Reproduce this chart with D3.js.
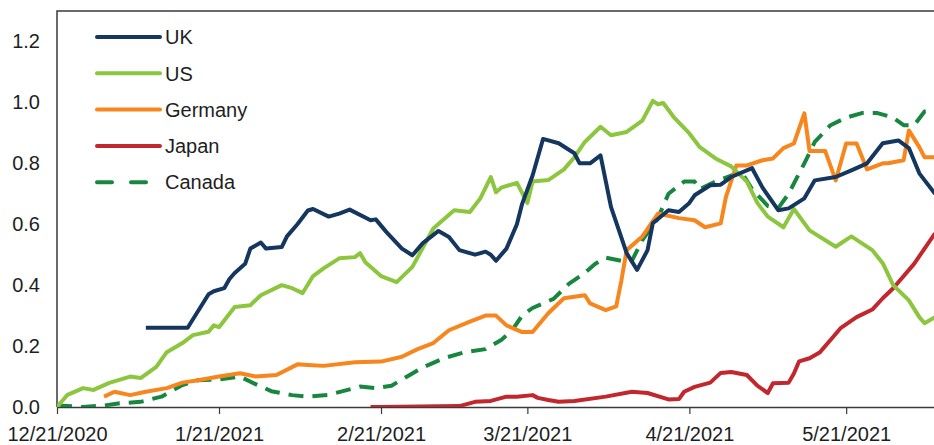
<!DOCTYPE html>
<html>
<head>
<meta charset="utf-8">
<script src="https://cdn.jsdelivr.net/npm/d3@7"></script>
<style>
  html, body { margin: 0; padding: 0; background: #fff; }
  svg text { font-family: "Liberation Sans", Arial, sans-serif; fill: #1e1e1e; }
</style>
</head>
<body>
<div id="chart"></div>
<script>
// values, [date, value]
const uk = [["2021-01-07",0.26],["2021-01-15",0.26],["2021-01-19",0.37],["2021-01-20",0.38],["2021-01-22",0.39],["2021-01-23",0.42],["2021-01-24",0.44],["2021-01-26",0.47],["2021-01-27",0.52],["2021-01-29",0.54],["2021-01-30",0.52],["2021-02-02",0.525],["2021-02-03",0.56],["2021-02-05",0.60],["2021-02-07",0.645],["2021-02-08",0.65],["2021-02-11",0.625],["2021-02-13",0.635],["2021-02-15",0.648],["2021-02-19",0.613],["2021-02-20",0.616],["2021-02-22",0.575],["2021-02-25",0.52],["2021-02-27",0.498],["2021-03-01",0.538],["2021-03-04",0.578],["2021-03-06",0.558],["2021-03-08",0.515],["2021-03-11",0.50],["2021-03-13",0.51],["2021-03-14",0.50],["2021-03-15",0.48],["2021-03-17",0.52],["2021-03-19",0.60],["2021-03-20",0.667],["2021-03-22",0.76],["2021-03-24",0.88],["2021-03-27",0.866],["2021-03-30",0.833],["2021-03-31",0.80],["2021-04-02",0.80],["2021-04-04",0.826],["2021-04-06",0.657],["2021-04-09",0.505],["2021-04-11",0.45],["2021-04-13",0.515],["2021-04-14",0.603],["2021-04-17",0.646],["2021-04-19",0.64],["2021-04-21",0.67],["2021-04-22",0.695],["2021-04-25",0.728],["2021-04-27",0.73],["2021-04-29",0.755],["2021-05-03",0.784],["2021-05-05",0.72],["2021-05-08",0.646],["2021-05-10",0.652],["2021-05-13",0.685],["2021-05-15",0.744],["2021-05-19",0.755],["2021-05-22",0.777],["2021-05-25",0.80],["2021-05-28",0.866],["2021-05-31",0.875],["2021-06-02",0.85],["2021-06-04",0.767],["2021-06-07",0.70]];

const us = [["2020-12-21",0.0],["2020-12-23",0.04],["2020-12-26",0.062],["2020-12-28",0.056],["2020-12-31",0.079],["2021-01-04",0.10],["2021-01-06",0.095],["2021-01-09",0.132],["2021-01-11",0.18],["2021-01-14",0.21],["2021-01-16",0.236],["2021-01-19",0.247],["2021-01-20",0.268],["2021-01-21",0.262],["2021-01-24",0.328],["2021-01-27",0.334],["2021-01-29",0.367],["2021-02-02",0.40],["2021-02-04",0.39],["2021-02-06",0.374],["2021-02-08",0.43],["2021-02-10",0.455],["2021-02-13",0.488],["2021-02-16",0.492],["2021-02-17",0.505],["2021-02-18",0.475],["2021-02-21",0.43],["2021-02-24",0.41],["2021-02-27",0.46],["2021-03-03",0.586],["2021-03-07",0.646],["2021-03-10",0.64],["2021-03-12",0.685],["2021-03-14",0.755],["2021-03-15",0.705],["2021-03-16",0.72],["2021-03-19",0.736],["2021-03-21",0.67],["2021-03-22",0.74],["2021-03-25",0.745],["2021-03-28",0.78],["2021-03-30",0.82],["2021-04-01",0.87],["2021-04-04",0.92],["2021-04-06",0.892],["2021-04-09",0.903],["2021-04-12",0.94],["2021-04-14",1.005],["2021-04-15",0.994],["2021-04-16",0.998],["2021-04-18",0.952],["2021-04-21",0.898],["2021-04-23",0.853],["2021-04-26",0.816],["2021-04-29",0.79],["2021-05-02",0.74],["2021-05-04",0.67],["2021-05-06",0.625],["2021-05-09",0.59],["2021-05-11",0.65],["2021-05-14",0.58],["2021-05-19",0.526],["2021-05-22",0.56],["2021-05-26",0.515],["2021-05-28",0.472],["2021-05-30",0.40],["2021-06-02",0.35],["2021-06-04",0.295],["2021-06-05",0.275],["2021-06-07",0.295]];

const germany = [["2020-12-30",0.034],["2021-01-01",0.05],["2021-01-04",0.039],["2021-01-07",0.05],["2021-01-11",0.062],["2021-01-14",0.08],["2021-01-17",0.088],["2021-01-21",0.10],["2021-01-25",0.111],["2021-01-28",0.10],["2021-02-01",0.105],["2021-02-05",0.14],["2021-02-07",0.138],["2021-02-10",0.135],["2021-02-16",0.147],["2021-02-21",0.149],["2021-02-25",0.165],["2021-02-28",0.19],["2021-03-03",0.21],["2021-03-06",0.252],["2021-03-10",0.28],["2021-03-13",0.30],["2021-03-15",0.30],["2021-03-17",0.268],["2021-03-20",0.246],["2021-03-22",0.246],["2021-03-25",0.308],["2021-03-28",0.357],["2021-04-01",0.367],["2021-04-02",0.34],["2021-04-05",0.318],["2021-04-07",0.33],["2021-04-08",0.416],["2021-04-09",0.515],["2021-04-12",0.56],["2021-04-15",0.635],["2021-04-19",0.62],["2021-04-22",0.613],["2021-04-24",0.59],["2021-04-27",0.603],["2021-04-28",0.69],["2021-04-30",0.793],["2021-05-02",0.793],["2021-05-05",0.81],["2021-05-07",0.816],["2021-05-09",0.85],["2021-05-11",0.865],["2021-05-13",0.964],["2021-05-14",0.84],["2021-05-17",0.84],["2021-05-19",0.744],["2021-05-21",0.865],["2021-05-23",0.865],["2021-05-25",0.78],["2021-05-28",0.80],["2021-05-29",0.80],["2021-06-01",0.81],["2021-06-02",0.908],["2021-06-04",0.853],["2021-06-05",0.82],["2021-06-07",0.82]];

const japan = [["2021-02-19",0.0],["2021-02-21",0.0],["2021-03-08",0.003],["2021-03-11",0.017],["2021-03-14",0.02],["2021-03-17",0.034],["2021-03-19",0.034],["2021-03-22",0.039],["2021-03-23",0.03],["2021-03-25",0.023],["2021-03-27",0.017],["2021-03-30",0.02],["2021-04-05",0.034],["2021-04-10",0.05],["2021-04-13",0.046],["2021-04-17",0.025],["2021-04-19",0.026],["2021-04-20",0.05],["2021-04-22",0.066],["2021-04-25",0.08],["2021-04-27",0.112],["2021-04-29",0.115],["2021-05-02",0.105],["2021-05-04",0.07],["2021-05-06",0.046],["2021-05-07",0.078],["2021-05-10",0.08],["2021-05-11",0.11],["2021-05-12",0.15],["2021-05-14",0.16],["2021-05-16",0.18],["2021-05-18",0.22],["2021-05-20",0.26],["2021-05-23",0.295],["2021-05-26",0.32],["2021-05-28",0.357],["2021-05-30",0.39],["2021-06-03",0.47],["2021-06-05",0.52],["2021-06-07",0.57]];

const canada = [["2020-12-21",0.005],["2020-12-26",0.0],["2020-12-30",0.005],["2021-01-02",0.012],["2021-01-06",0.017],["2021-01-10",0.034],["2021-01-14",0.072],["2021-01-17",0.088],["2021-01-21",0.09],["2021-01-25",0.10],["2021-01-28",0.075],["2021-01-31",0.052],["2021-02-04",0.039],["2021-02-07",0.034],["2021-02-11",0.04],["2021-02-17",0.067],["2021-02-20",0.062],["2021-02-23",0.07],["2021-02-26",0.10],["2021-03-01",0.13],["2021-03-05",0.16],["2021-03-09",0.18],["2021-03-13",0.19],["2021-03-16",0.22],["2021-03-18",0.25],["2021-03-20",0.30],["2021-03-22",0.325],["2021-03-26",0.355],["2021-03-29",0.405],["2021-04-01",0.44],["2021-04-03",0.47],["2021-04-05",0.49],["2021-04-08",0.48],["2021-04-10",0.48],["2021-04-12",0.548],["2021-04-15",0.62],["2021-04-17",0.70],["2021-04-20",0.74],["2021-04-22",0.74],["2021-04-23",0.715],["2021-04-26",0.74],["2021-04-29",0.76],["2021-05-01",0.77],["2021-05-03",0.715],["2021-05-06",0.66],["2021-05-08",0.653],["2021-05-10",0.70],["2021-05-13",0.80],["2021-05-15",0.87],["2021-05-18",0.925],["2021-05-21",0.95],["2021-05-24",0.965],["2021-05-27",0.965],["2021-05-30",0.95],["2021-06-01",0.925],["2021-06-03",0.925],["2021-06-05",0.97],["2021-06-07",0.975]];

const seriesNames = ["UK", "US", "Germany", "Japan", "Canada"];
const seriesValues = [uk, us, germany, japan, canada];
const seriesColors = ["#14365f", "#8cc63e", "#f7861e", "#c1272d", "#17873f"];

const xTickLabels = ["2020-12-21", "2021-01-21", "2021-02-21", "2021-03-21", "2021-04-21", "2021-05-21"];
const yTickLabels = [0, 0.2, 0.4, 0.6, 0.8, 1.0, 1.2];

(() => {
const width = 934, height = 445;
const plotLeft = 57, plotTop = 11, plotBottom = 407;
const parse = d3.timeParse("%Y-%m-%d");

const svg = d3.select("#chart").append("svg")
    .attr("width", width)
    .attr("height", height);

const x = d3.scaleTime()
    .domain([parse("2020-12-21"), parse("2021-06-07")])
    .range([plotLeft, 935]);
const y = d3.scaleLinear().domain([0, 1.3]).range([plotBottom, plotTop]);

svg.append("clipPath").attr("id", "plot-clip")
    .append("rect").attr("x", plotLeft).attr("y", plotTop)
    .attr("width", width - plotLeft).attr("height", plotBottom - plotTop);

// axes
const xAxis = svg.append("g")
    .attr("transform", `translate(0,${plotBottom})`)
    .call(d3.axisBottom(x)
        .tickValues(xTickLabels.map(parse))
        .tickFormat(d3.timeFormat("%-m/%-d/%Y"))
        .tickSizeInner(7).tickSizeOuter(0).tickPadding(13));
xAxis.select(".domain").attr("stroke", "#3a3a3a").attr("stroke-width", 1.5);
xAxis.selectAll(".tick line").attr("stroke", "#3a3a3a").attr("stroke-width", 1.2);
xAxis.selectAll(".tick text").style("font-size", "20px").attr("fill", "#1e1e1e");

const yAxis = svg.append("g")
    .attr("transform", `translate(${plotLeft},0)`)
    .call(d3.axisLeft(y)
        .tickValues(yTickLabels)
        .tickFormat(d3.format(".1f"))
        .tickSize(0).tickPadding(17));
yAxis.select(".domain").remove();
yAxis.selectAll(".tick text").style("font-size", "20px").attr("fill", "#1e1e1e");

// frame: left and top edge
svg.append("path")
    .attr("d", `M${plotLeft},${plotBottom}V${plotTop}H${width}`)
    .attr("fill", "none")
    .attr("stroke", "#3a3a3a")
    .attr("stroke-width", 1.5);

const line = d3.line()
    .x(d => x(parse(d[0])))
    .y(d => y(d[1]));

const plot = svg.append("g").attr("clip-path", "url(#plot-clip)");

// draw in the order that matches the overlaps in the picture
const drawOrder = [4, 3, 2, 1, 0];
drawOrder.forEach(i => {
    plot.append("path")
        .datum(seriesValues[i])
        .attr("d", line)
        .attr("fill", "none")
        .attr("stroke", seriesColors[i])
        .attr("stroke-width", 4)
        .attr("stroke-linejoin", "round")
        .attr("stroke-dasharray", seriesNames[i] === "Canada" ? "15,9" : null);
});

// legend
const legend = svg.append("g");
const rows = legend.selectAll("g")
    .data(seriesNames)
    .enter().append("g")
    .attr("transform", (d, i) => `translate(97,${37 + i * 36.3})`);

rows.append("line")
    .attr("x1", 0).attr("x2", d => d === "Canada" ? 49 : 63)
    .attr("stroke", (d, i) => seriesColors[i])
    .attr("stroke-width", 4)
    .attr("stroke-linecap", "round")
    .attr("stroke-dasharray", d => d === "Canada" ? "15,19" : null);

rows.append("text")
    .attr("x", 68)
    .attr("dy", "0.36em")
    .style("font-size", "20px")
    .text(d => d);
})();
</script>
</body>
</html>
